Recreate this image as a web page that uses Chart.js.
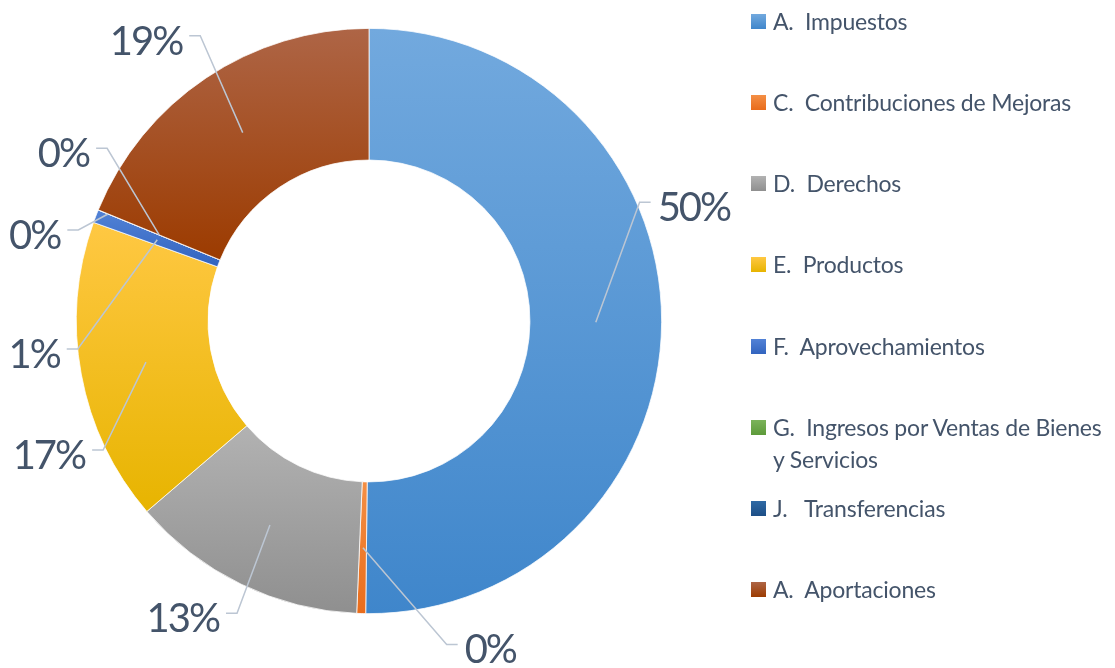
<!DOCTYPE html>
<html>
<head>
<meta charset="utf-8">
<script src="https://cdn.jsdelivr.net/npm/chart.js@4.4.1/dist/chart.umd.min.js"></script>
<style>
  html, body { margin: 0; padding: 0; background: #fff; }
  #wrap { position: relative; width: 1115px; height: 668px; }
  #chart { position: absolute; left: 0; top: 0; }
  #legend { position: absolute; left: 751px; top: 5px; font-family: Lato, sans-serif; font-size: 23px; color: #44546a; }
  .item { display: flex; align-items: flex-start; height: 81.14px; line-height: 32px; }
  .box { width: 15px; height: 15px; margin-top: 9px; margin-right: 7px; flex: none; }
  .txt { white-space: pre; letter-spacing: -0.2px; }
</style>
</head>
<body>
<div id="wrap">
  <canvas id="chart" width="1115" height="668"></canvas>
  <div id="legend"></div>
</div>
<script>
// categories and values (share of total, %)
const labels = [
    'A.  Impuestos',
    'C.  Contribuciones de Mejoras',
    'D.  Derechos',
    'E.  Productos',
    'F.  Aprovechamientos',
    ['G.  Ingresos por Ventas de Bienes', 'y Servicios'],
    'J.   Transferencias',
    'A.  Aportaciones'
];
const values = [50.18, 0.49, 13.05, 16.75, 0.72, 0, 0.01, 18.8];

// gradient colours, top -> bottom
const colorTop = ['#72a9de', '#f48f45', '#b2b2b2', '#ffc843', '#5282d6', '#7bb35a', '#2f6aa5', '#ae6546'];
const colorBottom = ['#3f86cb', '#e96c1b', '#8f8f8f', '#e7b400', '#3264bf', '#5d9a3a', '#1d4e86', '#9c3b00'];

// where each percentage label sits: angle (deg, clockwise from top), distance (x outer radius)
const labelAngle = [66.3, 166.5, 204.3, 244.1, 264.5, 287.4, 303.4, 329.4];
const labelDist = [1.01, 1.137, 1.096, 1.01, 1.0, 1.041, 1.072, 1.133];
const anchorPos = [0.5, 0.5, 0.5, 0.5, 0.5, 0.92, 0.5, 0.5];

const total = values.reduce((a, b) => a + b, 0);

function sliceGradient(context) {
    const chart = context.chart;
    const i = context.dataIndex;
    const area = chart.chartArea;
    if (!area) return colorTop[i];
    const cx = (area.left + area.right) / 2;
    const cy = (area.top + area.bottom) / 2;
    const ro = Math.min(area.right - area.left, area.bottom - area.top) / 2;
    const ri = ro * 0.55;
    let before = 0;
    for (let k = 0; k < i; k++) before += values[k];
    const a0 = before / total * 2 * Math.PI - Math.PI / 2;
    const a1 = (before + values[i]) / total * 2 * Math.PI - Math.PI / 2;
    let ymin = Infinity, ymax = -Infinity;
    for (let s = 0; s <= 60; s++) {
        const a = a0 + (a1 - a0) * s / 60;
        [ri, ro].forEach(r => {
            const y = cy + Math.sin(a) * r;
            ymin = Math.min(ymin, y);
            ymax = Math.max(ymax, y);
        });
    }
    if (ymax - ymin < 1) { ymin -= 1; ymax += 1; }
    const g = chart.ctx.createLinearGradient(0, ymin, 0, ymax);
    g.addColorStop(0, colorTop[i]);
    g.addColorStop(1, colorBottom[i]);
    return g;
}

const outLabels = {
    id: 'outLabels',
    afterDatasetsDraw(chart) {
        const ctx = chart.ctx;
        const meta = chart.getDatasetMeta(0);
        ctx.save();
        ctx.font = '400 40px Lato, sans-serif';
        ctx.letterSpacing = '-2px';
        ctx.fillStyle = '#44546a';
        ctx.textBaseline = 'middle';
        meta.data.forEach((arc, i) => {
            const p = arc.getProps(['x', 'y', 'startAngle', 'endAngle', 'innerRadius', 'outerRadius'], true);
            const mid = (p.startAngle + p.endAngle) / 2;
            const ar = p.innerRadius + (p.outerRadius - p.innerRadius) * anchorPos[i];
            const ax = p.x + Math.cos(mid) * ar;
            const ay = p.y + Math.sin(mid) * ar;
            const la = (labelAngle[i] - 90) * Math.PI / 180;
            const lr = p.outerRadius * labelDist[i];
            const ex = p.x + Math.cos(la) * lr;
            const ey = p.y + Math.sin(la) * lr;
            const side = ex > p.x ? 1 : -1;
            const hx = ex + side * 11;

            ctx.strokeStyle = '#bcc6d3';
            ctx.lineWidth = 1.5;
            ctx.beginPath();
            ctx.moveTo(ax, ay);
            ctx.lineTo(ex, ey);
            ctx.lineTo(hx, ey);
            ctx.stroke();

            const pct = Math.round(values[i] / total * 100) + '%';
            ctx.textAlign = side > 0 ? 'left' : 'right';
            ctx.fillText(pct, hx + side * 7, ey + 6);
        });
        ctx.restore();
    }
};

new Chart(document.getElementById('chart'), {
    type: 'doughnut',
    data: {
        labels: labels,
        datasets: [{
            data: values,
            backgroundColor: sliceGradient,
            borderColor: '#ffffff',
            borderWidth: 0.75
        }]
    },
    options: {
        responsive: false,
        animation: false,
        cutout: '55%',
        layout: { padding: { left: 76, right: 453, top: 28, bottom: 54 } },
        plugins: {
            legend: { display: false },
            tooltip: { enabled: true }
        }
    },
    plugins: [outLabels]
});

// html legend built from the same arrays
const legend = document.getElementById('legend');
labels.forEach((lab, i) => {
    const item = document.createElement('div');
    item.className = 'item';
    const box = document.createElement('div');
    box.className = 'box';
    box.style.background = `linear-gradient(${colorTop[i]}, ${colorBottom[i]})`;
    const txt = document.createElement('div');
    txt.className = 'txt';
    txt.textContent = Array.isArray(lab) ? lab.join('\n') : lab;
    item.appendChild(box);
    item.appendChild(txt);
    legend.appendChild(item);
});
</script>
</body>
</html>
